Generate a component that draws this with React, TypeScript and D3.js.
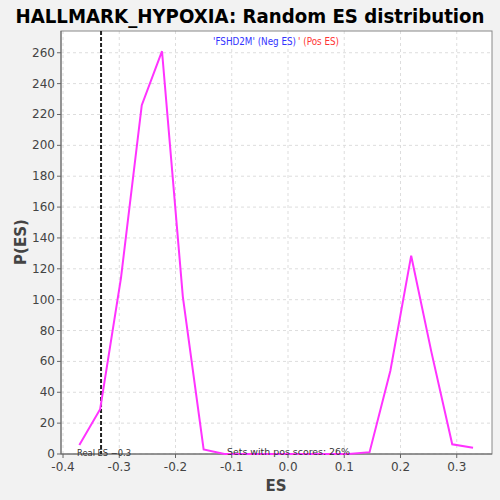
import React from "react";
import * as d3 from "d3";

const esValues = [-0.371, -0.334, -0.297, -0.26, -0.224, -0.187, -0.15, -0.113, -0.076, -0.039, -0.002, 0.035, 0.071, 0.108, 0.145, 0.182, 0.219, 0.255, 0.292, 0.329];
const density = [5.8, 29, 114, 226, 261, 102, 3, 0, 0, 0, 0, 0, 0, 0, 1.2, 54, 128.5, 66, 6.3, 4.1];
const xTicks = [-0.4, -0.3, -0.2, -0.1, 0.0, 0.1, 0.2, 0.3];
const yTicks = [0, 20, 40, 60, 80, 100, 120, 140, 160, 180, 200, 220, 240, 260];
const realES = -0.3324;
const title = "HALLMARK_HYPOXIA: Random ES distribution";

export default function App() {
  const L = 61, R = 492, T = 31, B = 454;
  const x = d3.scaleLinear().domain([-0.4036, 0.3627]).range([L, R]);
  const y = d3.scaleLinear().domain([0, 274.1]).range([B, T]);
  const line = d3.line<number>().x((_, i) => x(esValues[i])).y((d) => y(d));
  const font = "DejaVu Sans, sans-serif";
  return (
    <svg width={500} height={500} style={{ position: "fixed", left: 0, top: 0 }} fontFamily={font}>
      <rect width={500} height={500} fill="#f2f2f2" />
      <rect x={L} y={T} width={R - L} height={B - T} fill="#fff" />
      {xTicks.map((t) => (
        <line key={"gx" + t} x1={x(t)} x2={x(t)} y1={T} y2={B} stroke="#ddd" strokeDasharray="3,3" />
      ))}
      {yTicks.map((t) => (
        <line key={"gy" + t} x1={L} x2={R} y1={y(t)} y2={y(t)} stroke="#ddd" strokeDasharray="3,3" />
      ))}
      <rect x={L} y={T} width={R - L} height={B - T} fill="none" stroke="#888" />
      <line x1={L} x2={L} y1={T} y2={B} stroke="#666" />
      <line x1={L} x2={R} y1={B} y2={B} stroke="#666" />
      {xTicks.map((t) => (
        <g key={"tx" + t}>
          <line x1={x(t)} x2={x(t)} y1={B} y2={B + 4} stroke="#666" />
          <text x={x(t)} y={B + 17} textAnchor="middle" fontSize={12} fill="#444">
            {t.toFixed(1)}
          </text>
        </g>
      ))}
      {yTicks.map((t) => (
        <g key={"ty" + t}>
          <line x1={L - 4} x2={L} y1={y(t)} y2={y(t)} stroke="#666" />
          <text x={L - 6} y={y(t) + 4} textAnchor="end" fontSize={12} fill="#444">
            {t}
          </text>
        </g>
      ))}
      <line x1={x(realES)} x2={x(realES)} y1={T} y2={B} stroke="#222" strokeWidth={2} strokeDasharray="4,2" />
      <path d={line(density) || ""} fill="none" stroke="#ff33ff" strokeWidth={2} />
      <text x={77} y={456} fontSize={9} fill="#333" textLength={54} lengthAdjust="spacingAndGlyphs">Real ES −0.3</text>
      <text x={227} y={455} fontSize={9.5} fill="#333" textLength={123} lengthAdjust="spacingAndGlyphs">Sets with pos scores: 26%</text>
      <text x={213} y={45} fontSize={10} fill="#3333ff" textLength={83} lengthAdjust="spacingAndGlyphs">'FSHD2M' (Neg ES)</text>
      <text x={298} y={45} fontSize={10} fill="#ff3333" textLength={41} lengthAdjust="spacingAndGlyphs">' (Pos ES)</text>
      <text x={250} y={23} textAnchor="middle" fontSize={19.5} fontWeight="bold" fill="#000" textLength={469} lengthAdjust="spacingAndGlyphs">
        {title}
      </text>
      <text x={276} y={491} textAnchor="middle" fontSize={15} fontWeight="bold" fill="#444">ES</text>
      <text transform="translate(26,242) rotate(-90)" textAnchor="middle" fontSize={15} fontWeight="bold" fill="#444">P(ES)</text>
    </svg>
  );
}
